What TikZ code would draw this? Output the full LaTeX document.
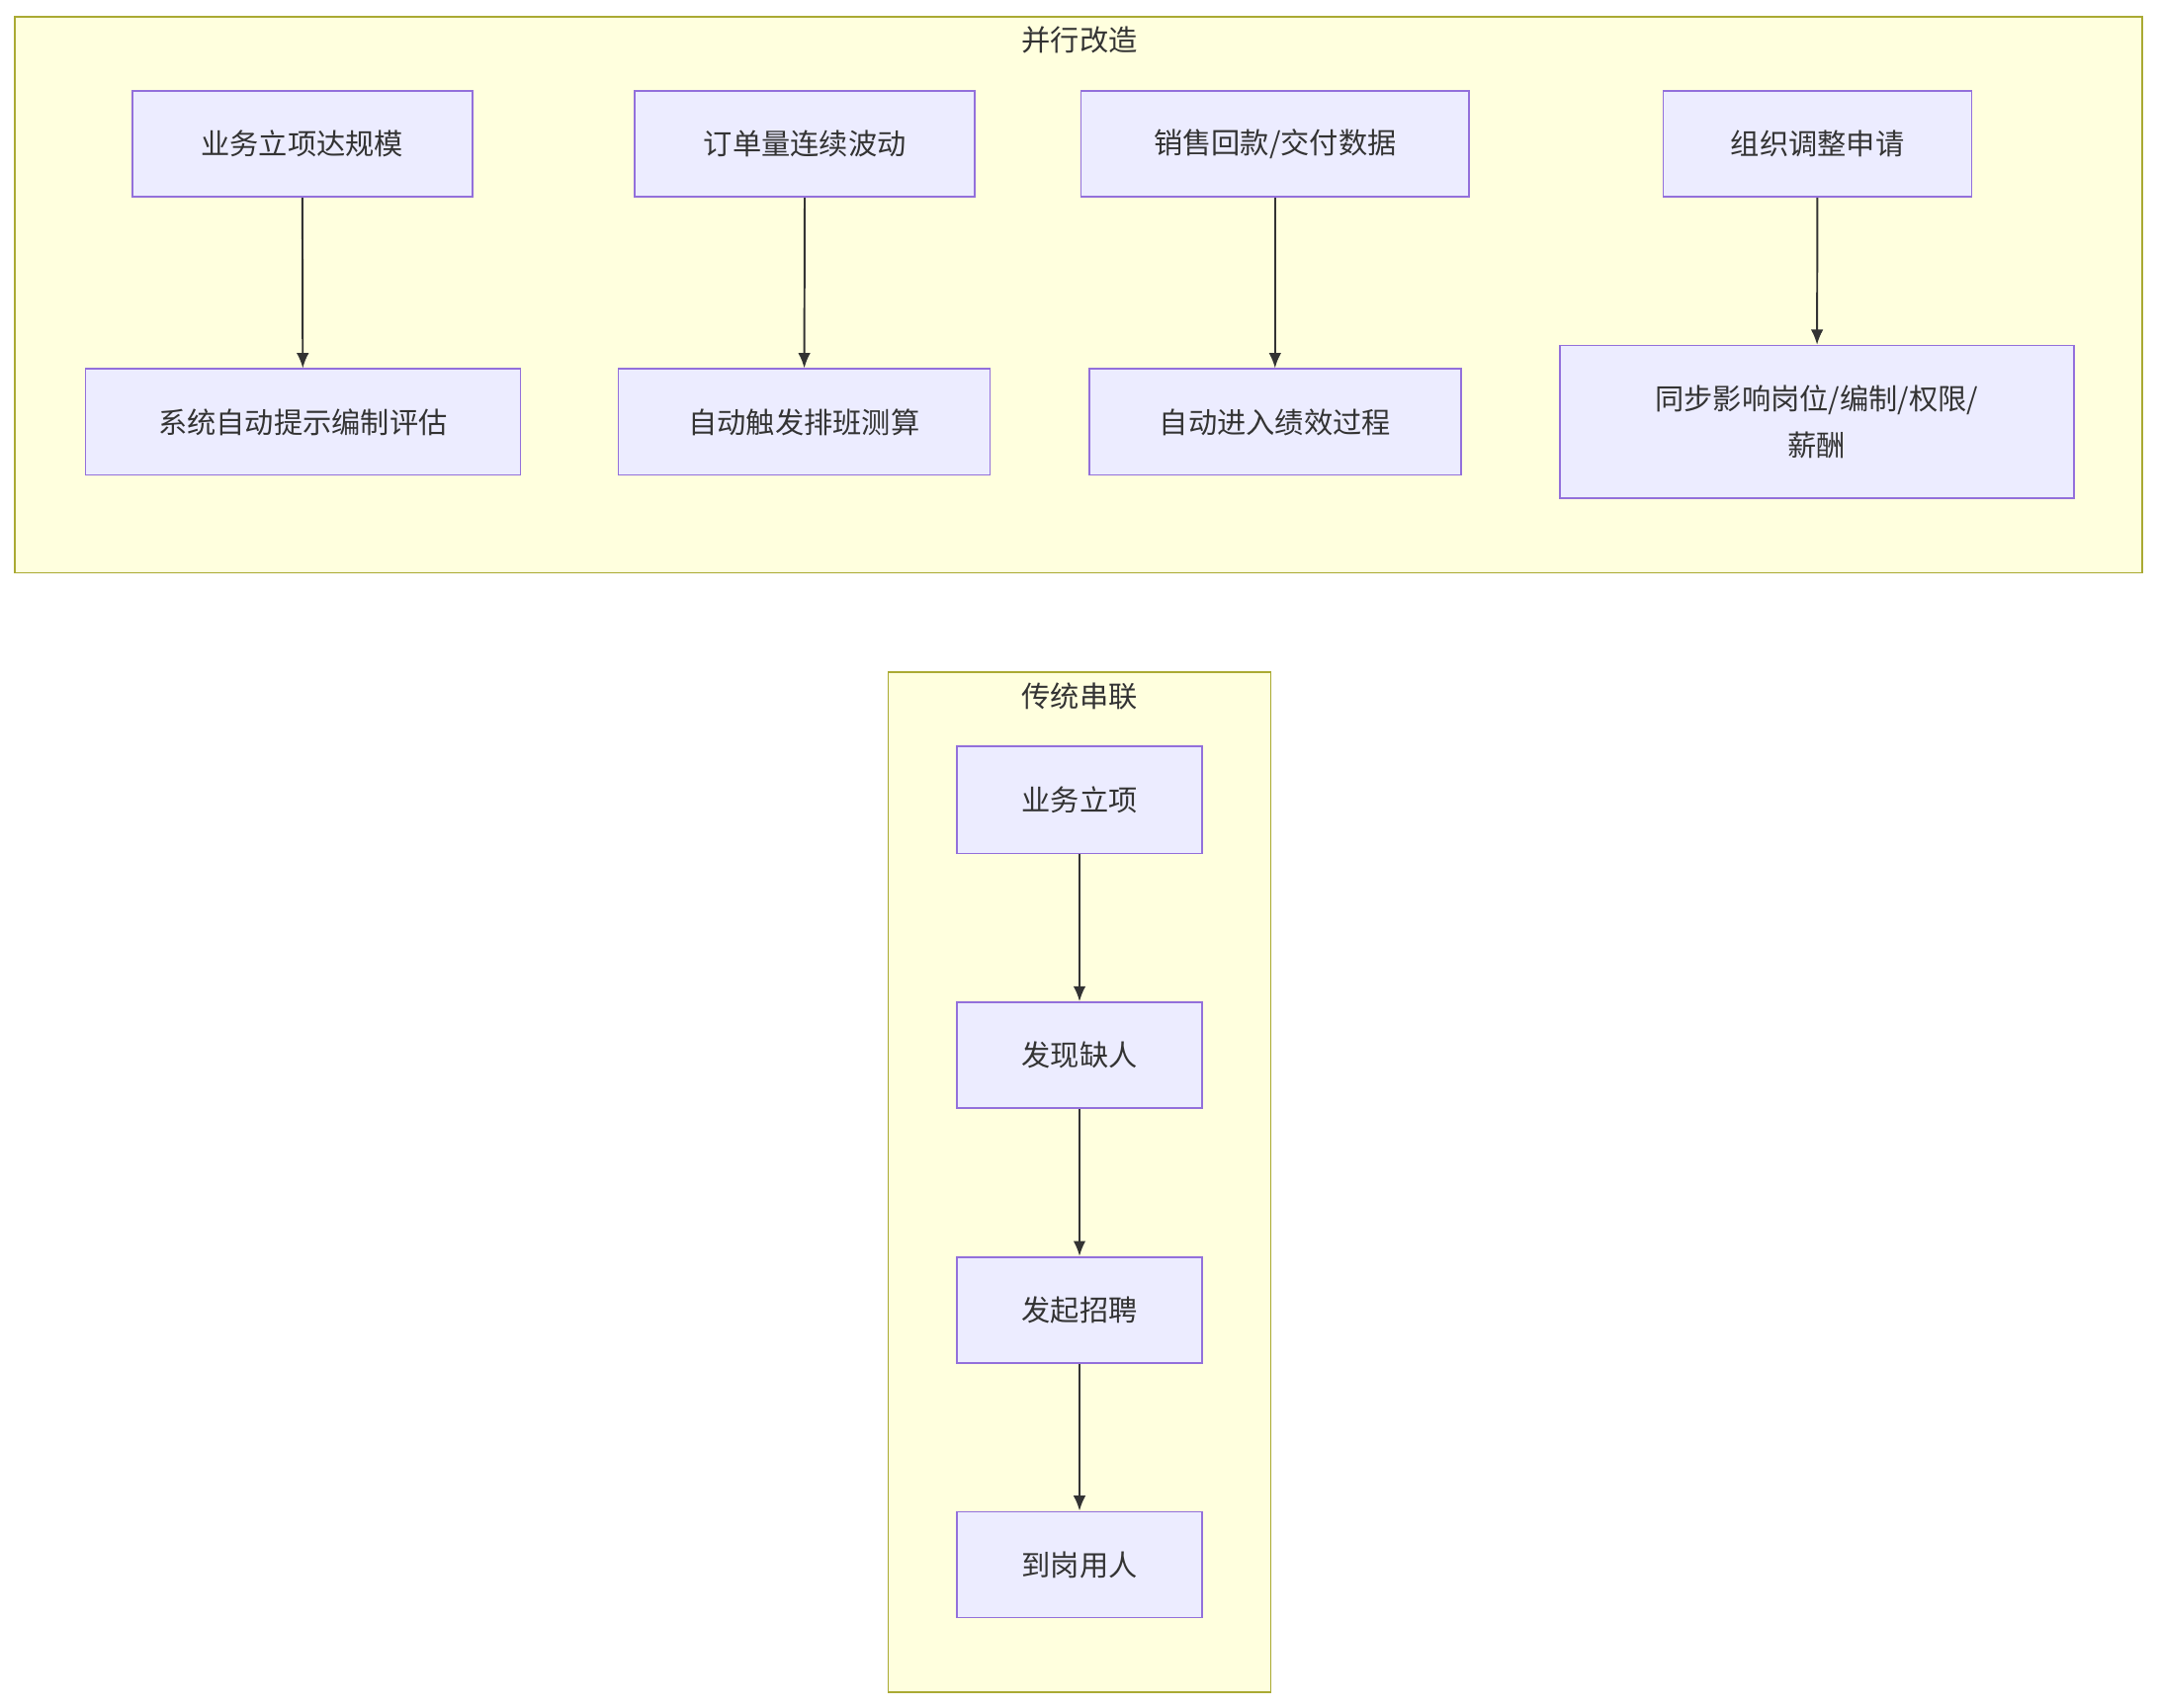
\documentclass[tikz,border=0pt]{standalone}
\usepackage{fontspec}
\setmainfont{Noto Sans CJK SC}
\usetikzlibrary{arrows.meta}
\definecolor{nfill}{HTML}{ECECFF}
\definecolor{nline}{HTML}{9370DB}
\definecolor{cfill}{HTML}{FFFFDE}
\definecolor{cline}{HTML}{AAAA33}
\definecolor{aline}{HTML}{333333}
\begin{document}
\begin{tikzpicture}[x=1pt,y=-1pt,
  box/.style={draw=nline,fill=nfill,line width=1.2pt,inner sep=0pt,align=center,font=\fontsize{21}{34}\selectfont,text=aline},
  clus/.style={draw=cline,fill=cfill,line width=1.2pt},
  ttl/.style={font=\fontsize{21}{26}\selectfont,text=aline},
  arr/.style={draw=aline,line width=1.4pt,-{Latex[length=11pt,width=9pt]}}]
\useasboundingbox[fill=white] (0,0) rectangle (1568,1240);
\draw[clus] (11,12) rectangle (1556,416);
\node[ttl] (t1) at (784,29) {并行改造};
\draw[clus] (645,488) rectangle (923,1229);
\node[ttl] (t2) at (784,506) {传统串联};
\newcommand{\bx}[6]{\node[box,minimum width={#4-#2},minimum height={#5-#3}] (#1) at ({(#2+#4)/2},{(#3+#5)/2}) {#6};}
\bx{a1}{96}{66}{343}{143}{业务立项达规模}
\bx{a2}{461}{66}{708}{143}{订单量连续波动}
\bx{a3}{785}{66}{1067}{143}{销售回款/交付数据}
\bx{a4}{1208}{66}{1432}{143}{组织调整申请}
\bx{b1}{62}{268}{378}{345}{系统自动提示编制评估}
\bx{b2}{449}{268}{719}{345}{自动触发排班测算}
\bx{b3}{791}{268}{1061}{345}{自动进入绩效过程}
\bx{b4}{1133}{251}{1506}{362}{同步影响岗位/编制/权限/\\薪酬}
\bx{c1}{695}{542}{873}{620}{业务立项}
\bx{c2}{695}{728}{873}{805}{发现缺人}
\bx{c3}{695}{913}{873}{990}{发起招聘}
\bx{c4}{695}{1098}{873}{1175}{到岗用人}
\foreach \u/\v in {a1/b1,a2/b2,a3/b3,a4/b4,c1/c2,c2/c3,c3/c4}
  \draw[arr] (\u) -- (\v);
\end{tikzpicture}
\end{document}
